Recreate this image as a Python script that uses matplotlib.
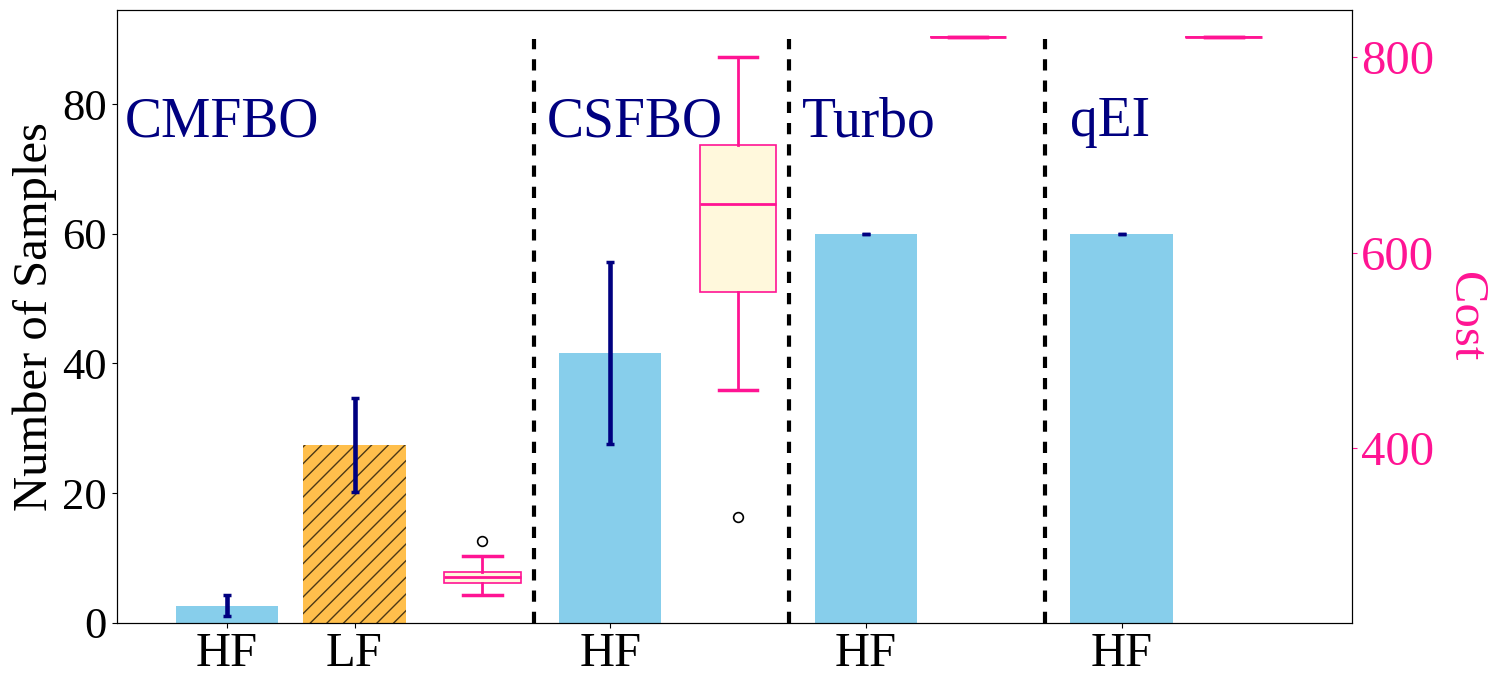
import matplotlib
matplotlib.use('Agg')
import matplotlib.pyplot as plt

plt.rcParams['font.family'] = ['Liberation Serif', 'DejaVu Serif']

# sample counts (mean, std) per method / fidelity
bar_labels = ['HF', 'LF', 'HF', 'HF', 'HF']
bar_pos = [0, 1, 3, 5, 7]
bar_means = [2.65, 27.4, 41.55, 60.0, 60.0]
bar_errs = [1.55, 7.2, 14.05, 0.0, 0.0]
bar_colors = ['skyblue', 'orange', 'skyblue', 'skyblue', 'skyblue']

# cost box statistics per method
methods = ['CMFBO', 'CSFBO', 'Turbo', 'qEI']
method_text_x = [-0.8, 2.5, 4.5, 6.6]
box_pos = [2, 4, 5.8, 7.8]
cost_med = [269.1, 649.8, 819.8, 819.8]
cost_q1 = [263.0, 559.5, 819.8, 819.8]
cost_q3 = [274.2, 709.5, 819.8, 819.8]
cost_lo = [250.7, 459.7, 819.8, 819.8]
cost_hi = [290.5, 799.8, 819.8, 819.8]
cost_fliers = [[305.9], [329.7], [], []]

separators = [2.4, 4.4, 6.4]

fig = plt.figure(figsize=(14.99, 6.87), dpi=100)
ax = fig.add_axes([0.0779, 0.0936, 0.8238, 0.8918])

for i in range(len(bar_pos)):
    if bar_labels[i] == 'LF':
        ax.bar(bar_pos[i], bar_means[i], width=0.8, color=bar_colors[i], alpha=0.7,
               hatch='//', edgecolor='black', linewidth=0)
    else:
        ax.bar(bar_pos[i], bar_means[i], width=0.8, color=bar_colors[i])
    ax.errorbar(bar_pos[i], bar_means[i], yerr=bar_errs[i], fmt='none', ecolor='navy',
                elinewidth=3.3, capsize=3, capthick=2.5)

for x in separators:
    ax.vlines(x, 0, 90, colors='black', linestyles=(0, (2.7, 2.4)), linewidth=3)

for name, tx in zip(methods, method_text_x):
    ax.text(tx, 75, name, color='navy', fontsize=40, ha='left', va='baseline')

ax.set_xticks(bar_pos)
ax.set_xticklabels(bar_labels)
ax.tick_params(axis='x', labelsize=35)
ax.tick_params(axis='y', labelsize=32)
ax.set_yticks([0, 20, 40, 60, 80])
ax.set_xlim(-0.86, 8.8)
ax.set_ylim(0, 94.5)
ax.set_ylabel('Number of Samples', fontsize=35)

ax2 = ax.twinx()
stats = []
for i in range(len(methods)):
    stats.append({'med': cost_med[i], 'q1': cost_q1[i], 'q3': cost_q3[i],
                  'whislo': cost_lo[i], 'whishi': cost_hi[i], 'fliers': cost_fliers[i]})
ax2.bxp(stats, positions=box_pos, widths=0.6, patch_artist=True, manage_ticks=False,
        boxprops=dict(facecolor='cornsilk', edgecolor='deeppink', linewidth=1.2),
        medianprops=dict(color='deeppink', linewidth=2),
        whiskerprops=dict(color='deeppink', linewidth=2),
        capprops=dict(color='deeppink', linewidth=2.5),
        flierprops=dict(marker='o', markerfacecolor='white', markeredgecolor='black',
                        markersize=7, markeredgewidth=1.2))
ax2.set_ylim(222, 847.7)
ax2.set_yticks([400, 600, 800])
ax2.tick_params(axis='y', colors='deeppink', labelsize=35)
ax2.set_ylabel('Cost', color='deeppink', fontsize=35, rotation=270, labelpad=38)
ax.set_xlim(-0.86, 8.8)

fig.savefig('out.png', dpi=100)
